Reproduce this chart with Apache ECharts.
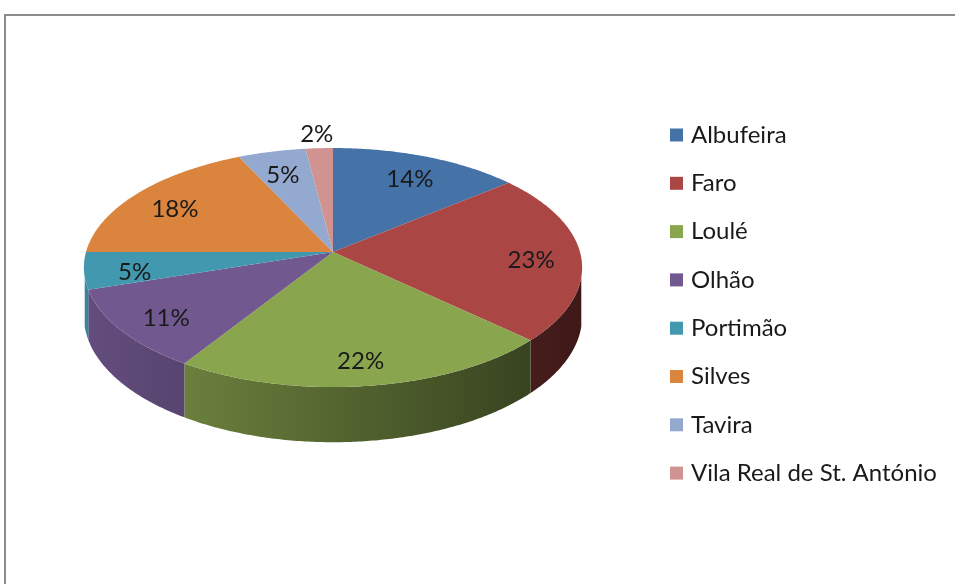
<!DOCTYPE html>
<html>
<head>
<meta charset="utf-8">
<script src="https://cdn.jsdelivr.net/npm/echarts@6/dist/echarts.min.js"></script>
<style>
html, body { margin: 0; padding: 0; background: #fff; overflow: hidden; }
#chart { position: absolute; left: 0; top: 0; width: 955px; height: 584px; }
.frame { position: absolute; left: 4px; top: 14px; width: 970px; height: 590px;
  border-top: 2px solid #8c8c8c; border-left: 2px solid #8c8c8c; pointer-events: none; }
</style>
</head>
<body>
<div id="chart"></div>
<div class="frame"></div>
<script>
const cities = ['Albufeira', 'Faro', 'Loulé', 'Olhão', 'Portimão', 'Silves', 'Tavira', 'Vila Real de St. António']
const shares = [14, 23, 22, 11, 5, 18, 5, 2]
const colors = ['#4572A7', '#AA4643', '#89A54E', '#71588F', '#4198AF', '#DB843D', '#93A9CF', '#D19392']

// 3d pie layout (Excel style, tilted with a little perspective)
const cx = 333
const cy = 252
const rx = 247
const ry = 117.5
const persp = 0.13
const depth = 48
const font = 'Lato'

const total = shares.reduce((a, b) => a + b, 0)
const starts = []
let acc = 0
shares.forEach(v => { starts.push(acc); acc += v })

const proj = function (t, r, drop) {
  const z = r * Math.cos(t)
  const s = 1 + persp * z
  return [cx + rx * r * Math.sin(t) / s, cy - ry * z / s + (drop || 0) / s]
}

const shade = function (hex, f) {
  const n = parseInt(hex.slice(1), 16)
  const r = Math.round(((n >> 16) & 255) * f)
  const g = Math.round(((n >> 8) & 255) * f)
  const b = Math.round((n & 255) * f)
  return 'rgb(' + r + ',' + g + ',' + b + ')'
}

const arc = function (a0, a1, drop) {
  const pts = []
  const n = Math.max(2, Math.ceil((a1 - a0) / 0.01))
  for (let k = 0; k <= n; k++) {
    pts.push(proj(a0 + (a1 - a0) * k / n, 1, drop))
  }
  return pts
}

const renderSlice = function (i, value) {
  const a0 = starts[i] / total * Math.PI * 2
  const a1 = (starts[i] + value) / total * Math.PI * 2
  const color = colors[i]
  const children = []

  // visible side wall (front part only)
  const vis0 = Math.acos(-persp) + 0.08
  const vis1 = Math.PI * 2 - vis0
  const w0 = Math.max(a0, vis0)
  const w1 = Math.min(a1, vis1)
  if (w1 > w0) {
    const top = arc(w0, w1, 0)
    const bottom = arc(w0, w1, depth).reverse()
    children.push({
      type: 'polygon',
      shape: { points: top.concat(bottom) },
      style: {
        fill: {
          type: 'linear', x: cx - rx, y: 0, x2: cx + rx, y2: 0, global: true,
          colorStops: [
            { offset: 0, color: shade(color, 0.88) },
            { offset: 0.5, color: shade(color, 0.62) },
            { offset: 1, color: shade(color, 0.36) }
          ]
        }
      }
    })
  }

  // top face
  children.push({
    type: 'polygon',
    shape: { points: [proj(0, 0)].concat(arc(a0, a1, 0)) },
    style: { fill: color }
  })

  // percent label, small slices go outside
  const mid = (a0 + a1) / 2
  const pos = proj(mid, value / total < 0.03 ? 1.21 : 0.8)
  children.push({
    type: 'text',
    z2: 100,
    x: pos[0],
    y: pos[1] + 5,
    style: {
      text: Math.round(value / total * 100) + '%',
      font: '24px ' + font,
      fill: '#1a1a1a',
      align: 'center',
      verticalAlign: 'middle'
    }
  })
  return { type: 'group', children: children }
}

const myChart = echarts.init(document.getElementById('chart'))
const option = {
  animation: false,
  backgroundColor: '#fff',
  legend: {
    orient: 'vertical',
    left: 665,
    top: 118,
    icon: 'rect',
    itemWidth: 13,
    itemHeight: 13,
    itemGap: 24.3,
    selectedMode: false,
    textStyle: { fontFamily: font, fontSize: 24, color: '#1a1a1a', padding: [0, 0, 0, 3] },
    data: cities
  },
  series: cities.map((name, i) => ({
    type: 'custom',
    name: name,
    coordinateSystem: 'none',
    itemStyle: { color: colors[i] },
    data: [[shares[i]]],
    renderItem: (params, api) => renderSlice(i, api.value(0))
  }))
}
myChart.setOption(option)
</script>
</body>
</html>
